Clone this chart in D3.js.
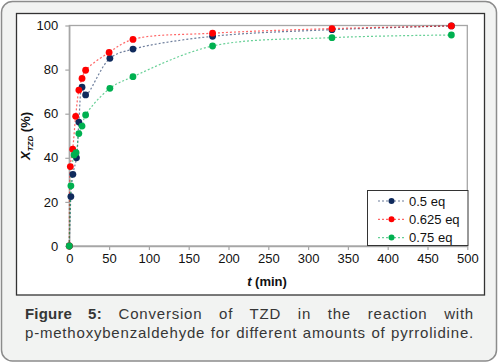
<!DOCTYPE html>
<html lang="en">
<head>
<meta charset="UTF-8">
<title>Conversion of TZD</title>
<script src="https://d3js.org/d3.v7.min.js"></script>
<style>
    body { margin: 0; background: #fff; }
    #wrap { position: relative; width: 502px; height: 363px; }
    svg { position: absolute; left: 0; top: 0; font-family: Arial, "Liberation Sans", sans-serif; }
    .caption {
        position: absolute;
        left: 25px; top: 304px; width: 449px;
        font-family: Arial, "Liberation Sans", sans-serif;
        font-size: 15px; line-height: 19px; color: #363636;
        letter-spacing: 0.8px;
        text-align: justify; text-align-last: justify;
    }
    .caption b { letter-spacing: 0.2px; }
</style>
</head>
<body>
<div id="wrap">
    <div class="caption"><b>Figure 5:</b> Conversion of TZD in the reaction with<br>p-methoxybenzaldehyde for different amounts of pyrrolidine.</div>
</div>
<script>
    // data
    const seriesNames = ["0.5 eq", "0.625 eq", "0.75 eq"];
    const colors = ["#0f2a5c", "#ff0000", "#00b050"];

    const t05 = [0, 2, 4.5, 9, 12, 16, 20.5, 51, 80, 180, 330, 480];
    const x05 = [0, 22.4, 32.5, 40, 56.2, 72, 68.5, 85.1, 89.3, 95.1, 98.1, 99.8];

    const t0625 = [0, 1.3, 4.3, 8, 12, 16, 20.5, 50, 80, 180, 330, 480];
    const x0625 = [0, 36, 43.9, 58.8, 70.7, 76, 79.7, 87.8, 93.7, 96.5, 98.6, 99.8];

    const t075 = [0, 2, 6, 8.5, 12, 16, 20.5, 51, 80, 180, 330, 480];
    const x075 = [0, 27.3, 41.3, 42.3, 51, 54.4, 59.4, 71.5, 76.8, 90.7, 94.5, 95.7];

    const xTicks = [0, 50, 100, 150, 200, 250, 300, 350, 400, 450, 500];
    const yTicks = [0, 20, 40, 60, 80, 100];

    const series = [
        { name: seriesNames[0], color: colors[0], pts: t05.map((t, i) => ({ t, v: x05[i] })) },
        { name: seriesNames[1], color: colors[1], pts: t0625.map((t, i) => ({ t, v: x0625[i] })) },
        { name: seriesNames[2], color: colors[2], pts: t075.map((t, i) => ({ t, v: x075[i] })) }
    ];

    const svg = d3.select("#wrap").insert("svg", ".caption")
        .attr("width", 502)
        .attr("height", 363);

    // outer panel and inner chart frame
    svg.append("rect")
        .attr("x", 1.5).attr("y", 1.5)
        .attr("width", 495).attr("height", 359.5)
        .attr("rx", 11)
        .attr("fill", "#f2f3f2")
        .attr("stroke", "#8c8c8c")
        .attr("stroke-width", 1.5);

    svg.append("rect")
        .attr("x", 16.5).attr("y", 13.5)
        .attr("width", 468).attr("height", 281.5)
        .attr("fill", "#fff")
        .attr("stroke", "#333")
        .attr("stroke-width", 1.3);

    const x = d3.scaleLinear().domain([0, 500]).range([69.3, 467.3]);
    const y = d3.scaleLinear().domain([0, 100]).range([246, 25.5]);

    // plot area border (grey)
    svg.append("rect")
        .attr("x", x(0)).attr("y", y(100))
        .attr("width", x(500) - x(0))
        .attr("height", y(0) - y(100))
        .attr("fill", "none")
        .attr("stroke", "#a6a6a6")
        .attr("stroke-width", 1.3);

    const xAxis = svg.append("g")
        .attr("transform", `translate(0,${y(0)})`)
        .call(d3.axisBottom(x).tickValues(xTicks).tickSizeInner(4).tickSizeOuter(0).tickPadding(4));
    const yAxis = svg.append("g")
        .attr("transform", `translate(${x(0)},0)`)
        .call(d3.axisLeft(y).tickValues(yTicks).tickSizeInner(4).tickSizeOuter(0).tickPadding(7));

    [xAxis, yAxis].forEach(g => {
        g.select(".domain").attr("stroke", "#a6a6a6").attr("stroke-width", 1.3);
        g.selectAll(".tick line").attr("stroke", "#a6a6a6").attr("stroke-width", 1.2);
        g.selectAll(".tick text")
            .attr("fill", "#111")
            .style("font-size", "13px")
            .style("font-family", "Arial, 'Liberation Sans', sans-serif");
    });

    // axis titles
    const xt = svg.append("text")
        .attr("x", 267).attr("y", 286)
        .attr("text-anchor", "middle")
        .style("font-size", "13px")
        .style("font-weight", "bold")
        .attr("fill", "#111");
    xt.append("tspan").style("font-style", "italic").text("t");
    xt.append("tspan").text(" (min)");

    const yt = svg.append("text")
        .attr("transform", "translate(30,136) rotate(-90)")
        .attr("text-anchor", "middle")
        .style("font-size", "13px")
        .style("font-weight", "bold")
        .attr("fill", "#111");
    yt.append("tspan").style("font-style", "italic").text("X");
    yt.append("tspan").attr("dy", 3).style("font-size", "8px").style("font-style", "italic").text("TZD");
    yt.append("tspan").attr("dy", -3).text(" (%)");

    // lines and markers
    const line = d3.line()
        .x(d => x(d.t))
        .y(d => y(d.v))
        .curve(d3.curveCatmullRom.alpha(0.5));

    series.forEach(s => {
        svg.append("path")
            .datum(s.pts)
            .attr("fill", "none")
            .attr("stroke", s.color)
            .attr("stroke-opacity", 0.6)
            .attr("stroke-width", 1.2)
            .attr("stroke-dasharray", "2,2")
            .attr("d", line);
    });

    series.forEach(s => {
        svg.append("g").selectAll("circle")
            .data(s.pts)
            .join("circle")
            .attr("cx", d => x(d.t))
            .attr("cy", d => y(d.v))
            .attr("r", 3.4)
            .attr("fill", s.color);
    });

    // legend
    const lg = svg.append("g");
    lg.append("rect")
        .attr("x", 367.5).attr("y", 190.5)
        .attr("width", 100.5).attr("height", 55)
        .attr("fill", "#fff")
        .attr("stroke", "#333")
        .attr("stroke-width", 1);

    series.forEach((s, i) => {
        const yy = 201 + i * 18.3;
        lg.append("line")
            .attr("x1", 378).attr("x2", 405)
            .attr("y1", yy).attr("y2", yy)
            .attr("stroke", s.color)
            .attr("stroke-opacity", 0.6)
            .attr("stroke-width", 1.2)
            .attr("stroke-dasharray", "2,2");
        lg.append("circle")
            .attr("cx", 391.5).attr("cy", yy)
            .attr("r", 3)
            .attr("fill", s.color);
        lg.append("text")
            .attr("x", 409).attr("y", yy + 4.5)
            .style("font-size", "13px")
            .attr("fill", "#111")
            .text(s.name);
    });
</script>
</body>
</html>
